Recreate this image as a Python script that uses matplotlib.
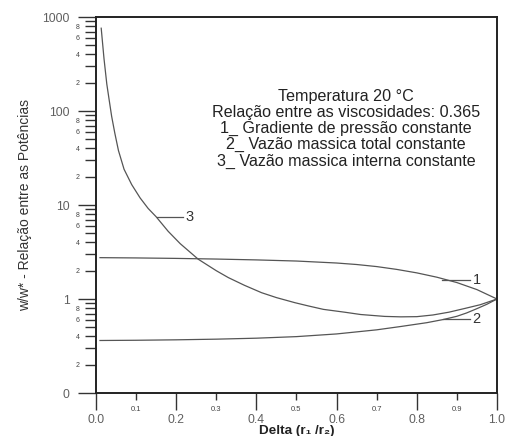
import matplotlib
matplotlib.use("Agg")
import matplotlib.pyplot as plt

plt.rcParams['font.family'] = ['Liberation Sans', 'DejaVu Sans']

# curve 1 - gradiente de pressao constante
x1 = [0.01, 0.1, 0.2, 0.3, 0.4, 0.5, 0.6, 0.65, 0.7, 0.75, 0.8, 0.85, 0.9, 0.95, 1.0]
y1 = [2.754, 2.735, 2.704, 2.661, 2.606, 2.535, 2.415, 2.328, 2.213, 2.065, 1.897, 1.706, 1.496, 1.259, 1.0]

# curve 2 - vazao massica total constante
x2 = [0.01, 0.1, 0.2, 0.3, 0.4, 0.5, 0.6, 0.7, 0.76, 0.825, 0.866, 0.9, 0.924, 0.95, 0.975, 1.0]
y2 = [0.362, 0.364, 0.368, 0.374, 0.383, 0.398, 0.425, 0.47, 0.51, 0.56, 0.605, 0.655, 0.71, 0.79, 0.88, 1.0]

# curve 3 - vazao massica interna constante
x3 = [0.013, 0.02, 0.027, 0.033, 0.039, 0.047, 0.056, 0.07, 0.089, 0.11, 0.13, 0.15,
      0.18, 0.21, 0.255, 0.3, 0.33, 0.37, 0.413, 0.45, 0.496, 0.53, 0.567, 0.62,
      0.66, 0.72, 0.76, 0.8, 0.84, 0.88, 0.92, 0.958, 1.0]
y3 = [760, 360, 193, 130, 88, 58, 38, 24, 16.5, 11.9, 9.2, 7.5,
      5.25, 3.88, 2.65, 2.0, 1.69, 1.40, 1.167, 1.035, 0.914, 0.843, 0.776, 0.724,
      0.684, 0.653, 0.646, 0.649, 0.676, 0.724, 0.794, 0.869, 1.0]

xmajor = [0.0, 0.2, 0.4, 0.6, 0.8, 1.0]
xminor = [0.1, 0.3, 0.5, 0.7, 0.9]
ymajor = [0.1, 1, 10, 100, 1000]
ymajor_labels = ['0', '1', '10', '100', '1000']

info = ("Temperatura 20 °C\n"
        "Relação entre as viscosidades: 0.365\n"
        "1_ Gradiente de pressão constante\n"
        "2_ Vazão massica total constante\n"
        "3_ Vazão massica interna constante")

fig = plt.figure(figsize=(5.06, 4.36), dpi=100)
ax = fig.add_axes([0.1897, 0.0986, 0.7925, 0.8624])

lc = '#555555'
ax.plot(x1, y1, color=lc, lw=0.9)
ax.plot(x2, y2, color=lc, lw=0.9)
ax.plot(x3, y3, color=lc, lw=0.9)

# curve labels with leader lines
for (xa, xb, yl, t) in [(0.862, 0.933, 1.6, '1'), (0.866, 0.933, 0.617, '2'), (0.152, 0.217, 7.37, '3')]:
    ax.plot([xa, xb], [yl, yl], color=lc, lw=0.9)
    ax.text(xb + 0.006, yl, t, fontsize=10.5, color='#333333', va='center', ha='left')

ax.set_yscale('log')
ax.set_xlim(0, 1)
ax.set_ylim(0.1, 1000)

ax.set_xticks(xmajor)
ax.set_xticklabels(['%.1f' % v for v in xmajor])
ax.set_xticks(xminor, minor=True)
ax.set_xticklabels(['%.1f' % v for v in xminor], minor=True)

ax.set_yticks(ymajor)
ax.set_yticklabels(ymajor_labels)
ymin_t, ymin_l = [], []
for d in [0.1, 1, 10, 100]:
    for m in range(2, 10):
        ymin_t.append(m * d)
        ymin_l.append(str(m) if m % 2 == 0 else '')
ax.set_yticks(ymin_t, minor=True)
ax.set_yticklabels(ymin_l, minor=True)

ax.tick_params(axis='x', which='major', direction='out', length=12, width=1,
               labelsize=8.7, labelcolor='#606060', pad=3, color='#333333')
ax.tick_params(axis='x', which='minor', direction='out', length=5, width=1,
               labelsize=5.5, labelcolor='#444444', pad=4, color='#333333')
ax.tick_params(axis='y', which='major', direction='out', length=13, width=1,
               labelsize=8.7, labelcolor='#606060', pad=6, color='#333333')
ax.tick_params(axis='y', which='minor', direction='out', length=8, width=1,
               labelsize=5, labelcolor='#444444', pad=4, color='#333333')

for s in ax.spines.values():
    s.set_linewidth(1.4)
    s.set_color('#222222')

ax.text(0.623, 0.703, info, transform=ax.transAxes, ha='center', va='center',
        fontsize=11.6, color='#222222', linespacing=1.1)

ax.set_ylabel('w/w* - Relação entre as Potências', fontsize=10, color='#333333')
ax.yaxis.set_label_coords(-0.16, 0.5)

fig.text(296.5 / 506, 1 - 425 / 436, 'Delta (r₁ /r₂)', ha='center', va='top',
         fontsize=9.7, fontweight='bold', color='#222222')

fig.savefig('out.png', dpi=100)
